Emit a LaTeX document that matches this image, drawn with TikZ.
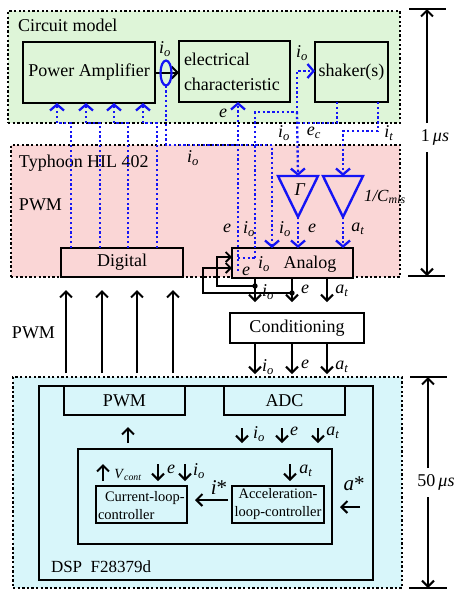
\documentclass[tikz,border=0pt]{standalone}
\usepackage{fontspec}
\setmainfont{Liberation Serif}
\usetikzlibrary{arrows.meta,shapes.geometric}
\definecolor{gbg}{RGB}{222,245,216}
\definecolor{pbg}{RGB}{250,214,214}
\definecolor{cbg}{RGB}{216,246,250}
\definecolor{bl}{RGB}{20,20,245}
\newcommand\lsub[2]{\textit{#1}\textsubscript{\textit{#2}}}
\begin{document}
\begin{tikzpicture}[x=1pt,y=-1pt,
  every node/.style={font=\fontsize{18}{21}\selectfont, inner sep=0pt, outer sep=0pt},
  region/.style={draw=black, line width=2.5pt, dash pattern=on 2.3pt off 2.3pt, rectangle},
  blkbox/.style={draw=black, line width=2.3pt, rectangle},
  bdot/.style={draw=bl, line width=2.3pt, dash pattern=on 2.3pt off 2.5pt},
  bbarb/.style={-{Straight Barb[length=6pt,width=14pt]}},
  bk/.style={draw=black, line width=2pt},
  kbarb/.style={-{Straight Barb[length=6pt,width=12pt]}},
  tri/.style={draw=bl, line width=2.4pt, line join=miter},
  small/.style={font=\fontsize{14.5}{18}\selectfont}
]
\useasboundingbox (0,0) rectangle (455,590);
% regions
\node[region, fill=gbg, minimum width=392pt, minimum height=112pt] (CM) at (204,67) {};
\node[region, fill=pbg, minimum width=389pt, minimum height=132pt] (PH) at (205.5,211) {};
\node[region, fill=cbg, minimum width=389pt, minimum height=211pt] (DSP) at (207.5,482.5) {};
\node[anchor=west] (cmt) at (18,25) {Circuit model};
\node[anchor=west] (pht) at (19,163) {Typhoon HIL 402};
\node[anchor=west] (phw) at (19,205) {PWM};
\node[anchor=west] (pwmo) at (12,333) {PWM};

% circuit model boxes
\node[blkbox, fill=gbg, minimum width=132pt, minimum height=61pt] (PA) at (89,72.5) {Power Amplifier};
\node[blkbox, fill=gbg, minimum width=111pt, minimum height=61pt] (EC) at (234.5,71.5) {};
\node[anchor=west, align=left, font=\fontsize{18}{25}\selectfont] (ECt) at (184,72) {electrical\\characteristic};
\node[blkbox, fill=gbg, minimum width=73pt, minimum height=60pt] (SH) at (351.5,72) {shaker(s)};

% HIL boxes
\node[blkbox, fill=pbg, minimum width=122pt, minimum height=29pt] (Digital) at (122,262.5) {Digital};
\node[blkbox, fill=pbg, minimum width=121pt, minimum height=30pt] (Analog) at (292.5,263) {};
\node (Analogt) at (310,264) {Analog};
\node[blkbox, fill=white, minimum width=134pt, minimum height=30pt] (Cond) at (297,328) {Conditioning};

% triangles
\coordinate (g1top) at (298,176); \coordinate (g1bot) at (298,217);
\coordinate (g2top) at (343,176); \coordinate (g2bot) at (343,217);
\draw[tri] (278,176) -- (318,176) -- (g1bot) -- cycle;
\draw[tri] (323,176) -- (363,176) -- (g2bot) -- cycle;
\node (gam) at (300,190) {\textit{Γ}};
\node[anchor=west, font=\fontsize{17}{20}\selectfont] (cml) at (364,197) {\textit{1/C}\textsubscript{\textit{mls}}};

% blue links Digital -> PA
\foreach \xa/\xb in {71/57,100/86,128/114,157/143}
  \draw[bdot,bbarb] (Digital.north -| \xa,0) -- (\xa,123) -- (\xb,123) -- (PA.south -| \xb,0);

% current sensor
\draw[bk,kbarb] (PA.east) -- (PA.east -| EC.west);
\node[draw=bl, line width=2.2pt, ellipse, minimum width=11pt, minimum height=25pt] (ell) at (166,73) {};
\draw[bdot,bbarb] (ell.south) -- (ell.south |- 0,145) -| (Analog.north -| 272,0);

% e to EC
\draw[bdot,bbarb] (238,271) -- (EC.south -| 238,0);
% i_o to shaker
\draw[bdot] (238,258) -- (255,258);
\draw[bdot,bbarb] (255,258) -- (255,112) -- (297,112) -- (297,71) -- (SH.west |- 0,71);
\draw[bdot,bbarb] (297,112) -- (g1top);
\draw[bdot] (SH.south -| 337,0) -- (337,123) -- (297,123);
\draw[bdot,bbarb] (SH.south -| 378,0) -- (378,131) -- (343,131) -- (g2top);
\draw[bdot,bbarb] (g1bot) -- (Analog.north -| 298,0);
\draw[bdot,bbarb] (g2bot) -- (Analog.north -| 343,0);

% black feedback into Analog
\coordinate (dA) at (255,286);
\coordinate (dB) at (292,293);
\draw[bk,-{Straight Barb[length=5pt,width=10pt]},line width=1.8pt] (dA) -| (217,257) -- (Analog.west |- 0,257);
\draw[bk,-{Straight Barb[length=5pt,width=10pt]},line width=1.8pt] (dB) -| (203,268) -- (Analog.west |- 0,268);
\fill (dA) circle (2.7pt);
\fill (dB) circle (2.7pt);

% Analog -> Conditioning -> DSP
\foreach \xx in {255,292,327} {
  \draw[bk,kbarb,shorten >=11pt] (Analog.south -| \xx,0) -- (Cond.north -| \xx,0);
  \draw[bk,kbarb,shorten >=3pt] (Cond.south -| \xx,0) -- (DSP.north -| \xx,0);
}
% PWM arrows up
\foreach \xx in {66,102,137,173}
  \draw[bk,kbarb,shorten <=4pt,shorten >=13pt] (DSP.north -| \xx,0) -- (PH.south -| \xx,0);

% labels blue area
\node (l1) at (165,49) {\lsub{i}{o}};
\node (l2) at (223,113) {\textit{e}};
\node (l3) at (302,53) {\lsub{i}{o}};
\node (l4) at (193,158) {\lsub{i}{o}};
\node (l5) at (284,133) {\lsub{i}{o}};
\node (l6) at (314,133) {\lsub{e}{c}};
\node (l7) at (389,133) {\lsub{i}{t}};
\node (l8) at (227,228) {\textit{e}};
\node (l9) at (249,229) {\lsub{i}{o}};
\node (l10) at (285,229) {\lsub{i}{o}};
\node (l11) at (312,228) {\textit{e}};
\node (l12) at (358,229) {\lsub{a}{t}};
\node (l13) at (264,264) {\lsub{i}{o}};
\node (l14) at (246,271) {\textit{e}};
\node (l15) at (268,292) {\lsub{i}{o}};
\node (l16) at (305,289) {\textit{e}};
\node (l17) at (342,291) {\lsub{a}{t}};
\node (l18) at (268,367) {\lsub{i}{o}};
\node (l19) at (305,364) {\textit{e}};
\node (l20) at (342,367) {\lsub{a}{t}};

% DSP internals
\node[blkbox, minimum width=334pt, minimum height=194pt] (DSPin) at (206,483) {};
\node[blkbox, fill=cbg, minimum width=121pt, minimum height=29pt] (PWM) at (124.5,400.5) {PWM};
\node[blkbox, fill=cbg, minimum width=121pt, minimum height=29pt] (ADC) at (284.5,400.5) {ADC};
\node[blkbox, minimum width=254pt, minimum height=95pt] (Ctrl) at (205,496.5) {};
\node[blkbox, minimum width=91pt, minimum height=37pt] (Cur) at (141.5,504.5) {};
\node[small, align=left, anchor=west] (Curt) at (98,506) {\hspace{7pt}Current-loop-\\controller};
\node[blkbox, minimum width=92pt, minimum height=37pt, small, align=center] (Acc) at (278,504.5) {Acceleration-\\loop-controller};
\node[anchor=west, font=\fontsize{17}{20}\selectfont] (dspt) at (51,567) {DSP\ \ F28379d};

\draw[bk,kbarb,shorten <=6pt,shorten >=12pt] (Ctrl.north -| 128,0) -- (PWM.south -| 128,0);
\foreach \xx in {242,282,318}
  \draw[bk,kbarb,shorten <=13pt,shorten >=6pt] (ADC.south -| \xx,0) -- (Ctrl.north -| \xx,0);
\node (d1) at (259,434) {\lsub{i}{o}};
\node (d2) at (294,431) {\textit{e}};
\node (d3) at (333,433) {\lsub{a}{t}};

\draw[bk,kbarb,shorten <=5pt,shorten >=15pt] (Cur.north -| 103,0) -- (Ctrl.north -| 103,0);
\foreach \xx in {158,185}
  \draw[bk,kbarb,shorten <=15pt,shorten >=5pt] (Ctrl.north -| \xx,0) -- (Cur.north -| \xx,0);
\draw[bk,kbarb,shorten <=15pt,shorten >=5pt] (Ctrl.north -| 290,0) -- (Acc.north -| 290,0);
\node[font=\fontsize{14}{16}\selectfont] (vc) at (128,475) {\lsub{V}{cont}};
\node (c1) at (171,469) {\textit{e}};
\node (c2) at (199,471) {\lsub{i}{o}};
\node (c3) at (306,471) {\lsub{a}{t}};
\draw[bk,kbarb,shorten <=4pt,shorten >=8pt] (Acc.west |- 0,500) -- (Cur.east |- 0,500);
\node[font=\fontsize{21}{24}\selectfont] (istar) at (219,488) {\textit{i}*};
\coordinate (astar) at (360,507);
\draw[bk,kbarb,shorten >=8pt] (astar) -- (Ctrl.east |- astar);
\node[font=\fontsize{21}{24}\selectfont] (astart) at (354,484) {\textit{a}*};

% timing scales
\coordinate (t1a) at (427,9); \coordinate (t1b) at (427,276);
\draw[line width=2.6pt] (409,9) -- (446,9);
\draw[line width=2.6pt] (408,276) -- (445,276);
\node (t1l) at (435,137) {1\,\textit{μs}};
\draw[bk,kbarb] (427,123) -- (t1a);
\draw[bk,kbarb] (427,152) -- (t1b);
\coordinate (t2a) at (428,377); \coordinate (t2b) at (428,588);
\draw[line width=2.6pt] (410,377) -- (447,377);
\draw[line width=2.6pt] (409,588) -- (447,588);
\node (t2l) at (436,482) {50\,\textit{μs}};
\draw[bk,kbarb] (428,468) -- (t2a);
\draw[bk,kbarb] (428,497) -- (t2b);
\end{tikzpicture}
\end{document}
